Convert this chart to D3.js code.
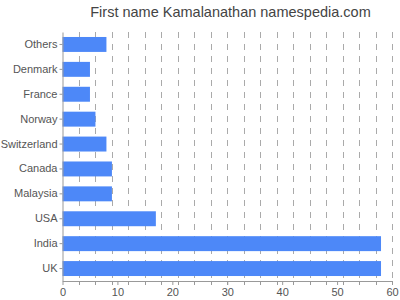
<!DOCTYPE html>
<html><head><meta charset="utf-8">
<script src="https://cdn.jsdelivr.net/npm/d3@7"></script>
<style>body{margin:0;background:#fff}svg{display:block}</style>
</head><body>
<script>
const categories = ["Others","Denmark","France","Norway","Switzerland","Canada","Malaysia","USA","India","UK"];
const values = [8,5,5,6,8,9,9,17,58,58];
const xTicks = [0,10,20,30,40,50,60];
const gridTicks = d3.range(3,61,3);
const title = "First name Kamalanathan namespedia.com";

const W=400,H=300, m={l:62.5,r:8,t:32,b:19};
const svg=d3.select("body").append("svg").attr("width",W).attr("height",H)
  .style("font-family","'Liberation Sans', Arial, sans-serif");
const x=d3.scaleLinear().domain([0,60]).range([m.l,392]);
const y=d3.scaleBand().domain(categories).range([m.t,H-m.b]).paddingInner(0.4).paddingOuter(0.2);

svg.append("text").attr("x",230.5).attr("y",17).attr("text-anchor","middle")
  .attr("font-size",14.5).attr("fill","#444").text(title);

// grid
svg.append("g").selectAll("line").data(gridTicks).join("line")
  .attr("x1",d=>Math.round(x(d))+0.5).attr("x2",d=>Math.round(x(d))+0.5)
  .attr("y1",m.t).attr("y2",H-m.b)
  .attr("stroke","#aaa").attr("stroke-dasharray","6,6");

// bars
svg.append("g").selectAll("rect").data(values).join("rect")
  .attr("x",x(0)).attr("y",(d,i)=>y(categories[i]))
  .attr("width",d=>x(d)-x(0)).attr("height",y.bandwidth())
  .attr("fill","#4d88f8");

// x axis
const gx=svg.append("g").attr("transform",`translate(0,${H-m.b})`)
  .call(d3.axisBottom(x).tickValues(xTicks).tickSize(4).tickSizeOuter(0));
gx.select(".domain").attr("stroke","#999");
gx.selectAll(".tick line").attr("stroke","#999");
gx.selectAll("text").attr("fill","#555").attr("font-size",11).attr("font-family","'Liberation Sans', Arial, sans-serif");
svg.append("g").attr("transform",`translate(0,${H-m.b})`).selectAll("line").data(gridTicks).join("line")
  .attr("x1",d=>Math.round(x(d))+0.5).attr("x2",d=>Math.round(x(d))+0.5).attr("y1",0).attr("y2",4).attr("stroke","#999");

// y axis
const gy=svg.append("g").attr("transform",`translate(${m.l},0)`)
  .call(d3.axisLeft(y).tickSize(3).tickPadding(2).tickSizeOuter(0));
gy.select(".domain").attr("stroke","#999");
gy.selectAll(".tick line").attr("stroke","#999");
gy.selectAll("text").attr("fill","#555").attr("font-size",11).attr("font-family","'Liberation Sans', Arial, sans-serif");
</script>
</body></html>
